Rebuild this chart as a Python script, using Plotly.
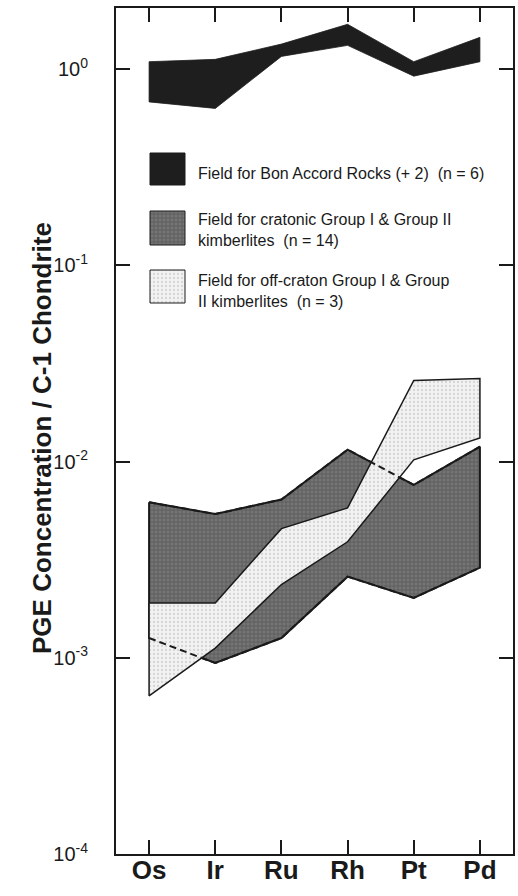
import plotly.graph_objects as go

# ---------------- data ----------------
elements = ["Os", "Ir", "Ru", "Rh", "Pt", "Pd"]
bon_upper = [1.09, 1.12, 1.34, 1.69, 1.09, 1.45]
bon_lower = [0.68, 0.63, 1.16, 1.32, 0.92, 1.09]
crat_upper = [0.0062, 0.0054, 0.0064, 0.0115, 0.0076, 0.0119]
crat_lower = [0.00126, 0.00094, 0.00126, 0.00259, 0.00202, 0.00288]
off_upper = [0.0019, 0.0019, 0.00455, 0.0058, 0.0259, 0.0265]
off_lower = [0.00064, 0.00112, 0.00236, 0.0039, 0.0102, 0.0132]
ytick_vals = [1e-4, 1e-3, 1e-2, 1e-1, 1]
ytick_text = ["10<sup>-4</sup>", "10<sup>-3</sup>", "10<sup>-2</sup>", "10<sup>-1</sup>", "10<sup>0</sup>"]
legend_labels = [
    "Field for Bon Accord Rocks (+ 2)\u00a0\u00a0(n = 6)",
    "Field for cratonic Group I &amp; Group II<br>kimberlites\u00a0\u00a0(n = 14)",
    "Field for off-craton Group I &amp; Group<br>II kimberlites\u00a0\u00a0(n = 3)",
]

FONT = "Liberation Sans, Arial, Helvetica, sans-serif"
INK = "#1a1a1a"

W, H = 518, 896
L, R, T, B = 116, 5, 8, 42

crat_pattern = dict(shape="+", bgcolor="#747474", fgcolor="#3a3a3a", size=4, solidity=0.35)
off_pattern = dict(shape=".", bgcolor="#f2f2f2", fgcolor="#b5b5b5", size=4, solidity=0.25)


def polygon(upper, lower):
    xs = elements + elements[::-1] + [elements[0]]
    ys = upper + lower[::-1] + [upper[0]]
    return xs, ys


fig = go.Figure()

# Bon Accord field
x, y = polygon(bon_upper, bon_lower)
fig.add_trace(go.Scatter(x=x, y=y, mode="lines", fill="toself", fillcolor="#1e1e1e",
                         line=dict(color="#1e1e1e", width=0.8), hoverinfo="skip", showlegend=False))

# cratonic field
x, y = polygon(crat_upper, crat_lower)
fig.add_trace(go.Scatter(x=x, y=y, mode="lines", fill="toself", fillcolor="#747474",
                         fillpattern=crat_pattern,
                         line=dict(color=INK, width=2), hoverinfo="skip", showlegend=False))

# off-craton field (on top)
x, y = polygon(off_upper, off_lower)
fig.add_trace(go.Scatter(x=x, y=y, mode="lines", fill="toself", fillcolor="#f2f2f2",
                         fillpattern=off_pattern,
                         line=dict(color=INK, width=1.5), hoverinfo="skip", showlegend=False))

# cratonic boundaries dashed where hidden beneath off-craton field
for arr in (crat_upper, crat_lower):
    fig.add_trace(go.Scatter(x=elements, y=arr, mode="lines",
                             line=dict(color=INK, width=2, dash="7px,4px"),
                             hoverinfo="skip", showlegend=False))

# ---------------- legend swatches (overlay axes in pixel-based paper coords) ----------------
pw, ph = W - L - R, H - T - B


def px2paper(px, py):
    return (px - L) / pw, (H - B - py) / ph


swatch_boxes = [(150, 153, 185, 185), (150, 211, 185, 245), (150, 270, 185, 303)]
swatch_styles = [
    dict(fillcolor="#1e1e1e"),
    dict(fillcolor="#747474", fillpattern=crat_pattern),
    dict(fillcolor="#f2f2f2", fillpattern=off_pattern),
]
for (x0, y0, x1, y1), st in zip(swatch_boxes, swatch_styles):
    a0, b0 = px2paper(x0, y1)
    a1, b1 = px2paper(x1, y0)
    fig.add_trace(go.Scatter(x=[a0, a1, a1, a0, a0], y=[b0, b0, b1, b1, b0], mode="lines",
                             fill="toself", line=dict(color=INK, width=1),
                             xaxis="x2", yaxis="y2", hoverinfo="skip", showlegend=False, **st))

label_y = [173, 230, 291]
for lab, ly in zip(legend_labels, label_y):
    ax, ay = px2paper(196, ly)
    fig.add_annotation(x=ax, y=ay, xref="paper", yref="paper", text=lab, showarrow=False,
                       xanchor="left", yanchor="middle", align="left",
                       font=dict(family=FONT, size=16, color=INK))

# y-axis title as rotated annotation (precise placement)
tx, ty = px2paper(42, 438)
fig.add_annotation(x=tx, y=ty, xref="paper", yref="paper",
                   text="<b>PGE Concentration / C-1 Chondrite</b>", textangle=-90,
                   showarrow=False, xanchor="center", yanchor="middle",
                   font=dict(family=FONT, size=26, color=INK))

fig.update_layout(
    width=W, height=H,
    margin=dict(l=L, r=R, t=T, b=B, autoexpand=False),
    paper_bgcolor="white", plot_bgcolor="white",
    font=dict(family=FONT, color=INK),
    showlegend=False,
    xaxis=dict(type="category", categoryorder="array", categoryarray=elements,
               range=[-0.5, 5.5], showgrid=False, zeroline=False, automargin=False,
               showline=True, linecolor=INK, linewidth=2, mirror="ticks",
               ticks="inside", ticklen=14, tickwidth=1.5, tickcolor=INK,
               tickfont=dict(family=FONT, size=26, color=INK),
               ticklabelstandoff=-8,
               tickprefix="<b>", ticksuffix="</b>"),
    yaxis=dict(type="log", range=[-4, 0.311], showgrid=False, zeroline=False, automargin=False,
               showline=True, linecolor=INK, linewidth=2, mirror="ticks",
               ticks="inside", ticklen=14, tickwidth=1.5, tickcolor=INK,
               tickvals=ytick_vals, ticktext=ytick_text,
               tickfont=dict(family=FONT, size=20, color=INK),
               ticklabelstandoff=22),
    xaxis2=dict(overlaying="x", range=[0, 1], visible=False, fixedrange=True),
    yaxis2=dict(overlaying="y", range=[0, 1], visible=False, fixedrange=True),
)

fig.write_html("out.html", config={"displayModeBar": False},
               post_script="document.body.style.margin='0';document.body.style.overflow='hidden';")
